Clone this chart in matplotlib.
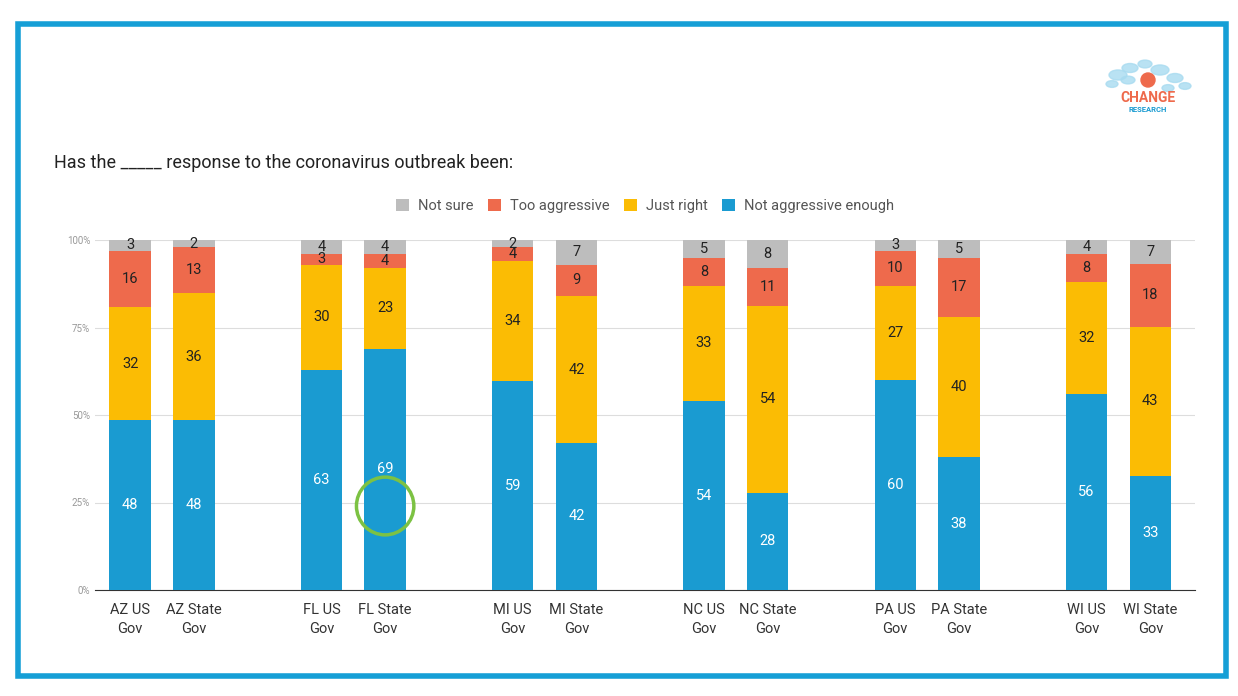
import numpy as np
import matplotlib.pyplot as plt
from matplotlib.patches import Rectangle, Circle, Ellipse

plt.rcParams['font.family'] = ['Roboto', 'DejaVu Sans']

labels = ['AZ US\nGov', 'AZ State\nGov', 'FL US\nGov', 'FL State\nGov', 'MI US\nGov', 'MI State\nGov',
          'NC US\nGov', 'NC State\nGov', 'PA US\nGov', 'PA State\nGov', 'WI US\nGov', 'WI State\nGov']
not_enough = np.array([48, 48, 63, 69, 59, 42, 54, 28, 60, 38, 56, 33])
just_right = np.array([32, 36, 30, 23, 34, 42, 33, 54, 27, 40, 32, 43])
too_aggr = np.array([16, 13, 3, 4, 4, 9, 8, 11, 10, 17, 8, 18])
not_sure = np.array([3, 2, 4, 4, 2, 7, 5, 8, 3, 5, 4, 7])

x_pos = np.array([g * 3 + k for g in range(6) for k in range(2)], dtype=float)
total = not_enough + just_right + too_aggr + not_sure

fig = plt.figure(figsize=(12.38, 6.96), dpi=100)
fig.patches.append(Rectangle((18/1238, 20/696), 1208/1238, 652/696, transform=fig.transFigure,
                             fill=False, edgecolor='#169fd6', linewidth=4))
ax = fig.add_axes([95/1238, 106/696, 1100/1238, 350/696])

series = [(not_enough, '#1a9bd1', 'white', 'Not aggressive enough'),
          (just_right, '#fbbc04', '#222222', 'Just right'),
          (too_aggr, '#ee6a4c', '#222222', 'Too aggressive'),
          (not_sure, '#bdbdbd', '#222222', 'Not sure')]
bottom = np.zeros(len(x_pos))
handles = []
for vals, col, tcol, name in series:
    h = vals / total * 100
    b = ax.bar(x_pos, h, bottom=bottom, width=0.65, color=col, label=name, zorder=3)
    handles.append(b)
    for xi, bi, hi, v in zip(x_pos, bottom, h, vals):
        ax.text(xi, bi + hi / 2, str(v), ha='center', va='center', color=tcol, fontsize=10.5, zorder=4)
    bottom += h

ax.add_patch(Ellipse((x_pos[3], 24), 0.9, 16.5, fill=False, edgecolor='#7cc243', linewidth=2.5, zorder=5))

ax.set_xlim(-0.55, x_pos[-1] + 0.7)
ax.set_ylim(0, 100)
ax.set_yticks([0, 25, 50, 75, 100])
ax.set_yticklabels(['0%', '25%', '50%', '75%', '100%'], fontsize=7, color='#999999')
ax.set_xticks(x_pos)
ax.set_xticklabels(labels, fontsize=10.5, color='#333333', linespacing=1.5)
ax.tick_params(length=0)
ax.tick_params(axis='x', pad=9)
ax.grid(axis='y', color='#dddddd', zorder=0)
for s in ['top', 'right', 'left']:
    ax.spines[s].set_visible(False)
ax.spines['bottom'].set_color('#333333')

ax.legend(handles[::-1], [h.get_label() for h in handles[::-1]], loc='lower center',
          bbox_to_anchor=(0.5, 1.04), ncol=4, frameon=False, fontsize=10.5, handlelength=0.9,
          handleheight=0.9, columnspacing=1.0, handletextpad=0.6, labelcolor='#555555')
fig.text(54/1238, 1 - 163/696, 'Has the _____ response to the coronavirus outbreak been:',
         fontsize=13, va='center', color='#222222')

# logo
for cx, cy, r in [(1118, 75, 9), (1130, 68, 8), (1145, 64, 7), (1160, 70, 9), (1175, 78, 8),
                  (1185, 86, 6), (1112, 84, 6), (1128, 80, 7), (1168, 88, 6)]:
    fig.patches.append(Circle((cx/1238, 1 - cy/696), r/1238, transform=fig.transFigure,
                              color='#a8dbf0', alpha=0.8))
fig.patches.append(Ellipse((1148/1238, 1 - 80/696), 14/1238, 14/696, transform=fig.transFigure, color='#ee6a4c'))
fig.text(1148/1238, 1 - 98/696, 'CHANGE', ha='center', va='center', fontsize=10, color='#ee6a4c', weight='bold')
fig.text(1148/1238, 1 - 110/696, 'RESEARCH', ha='center', va='center', fontsize=5.5, color='#1a9bd1', weight='bold')

fig.savefig('out.png')
